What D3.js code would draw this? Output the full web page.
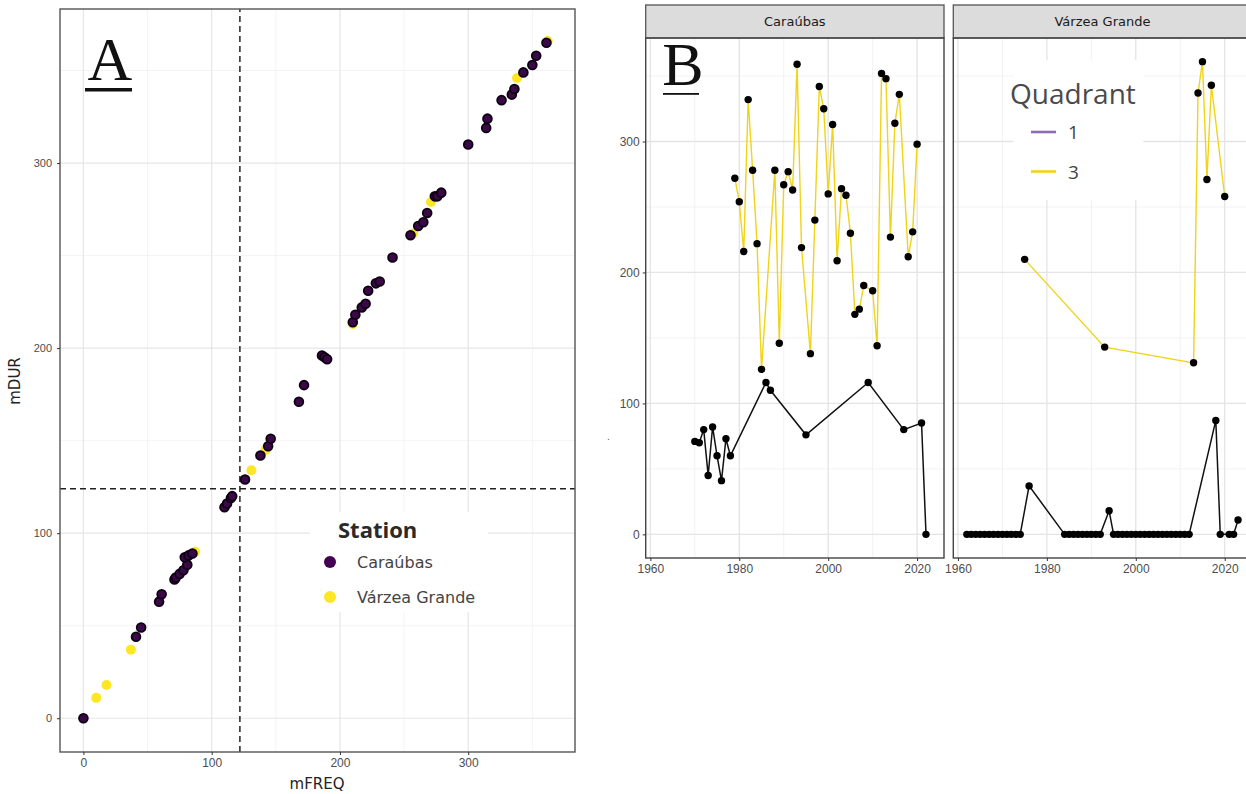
<!DOCTYPE html>
<html>
<head>
<meta charset="utf-8">
<script src="https://cdn.jsdelivr.net/npm/d3@7"></script>
<style>
  body { margin: 0; background: #fff; }
  svg { display: block; font-family: "DejaVu Sans", sans-serif; }
  .axis .domain { display: none; }
  .axis .tick line { stroke: #333; }
  .axis .tick text { fill: #4d4d4d; }
</style>
</head>
<body>
<div id="chart"></div>
<script>
// ---- Panel A: station means (mFREQ, mDUR) ----
var carFreq = [0, 41, 45, 59, 61, 71, 72, 75, 78, 81, 79, 82, 85, 110, 112, 115, 116, 126, 138, 144, 146, 168, 172, 186, 188, 190, 210, 212, 217, 220, 222, 228, 231, 241, 255, 261, 265, 268, 274, 276, 279, 300, 314, 315, 326, 334, 336, 343, 350, 353, 361];
var carDur  = [0, 44, 49, 63, 67, 75, 76, 78, 80, 83, 87, 88, 89, 114, 116, 119, 120, 129, 142, 147, 151, 171, 180, 196, 195, 194, 214, 218, 222, 224, 231, 235, 236, 249, 261, 266, 268, 273, 282, 282, 284, 310, 319, 324, 334, 337, 340, 349, 353, 358, 365];
var vgFreq = [10, 18, 37, 87, 131, 142, 210, 257, 271, 338, 362];
var vgDur  = [11, 18, 37, 90, 134, 145, 213, 262, 279, 346, 366];
var stationNames = ["Caraúbas", "Várzea Grande"];
var stationColors = ["#440154", "#FDE725"];
var freqThreshold = 122;
var durThreshold = 124;
var ticksA = [0, 100, 200, 300];
var minorA = [50, 150, 250, 350];

// ---- Panel B: yearly series by quadrant ----
var carQ3Years = [1979, 1980, 1981, 1982, 1983, 1984, 1985, 1988, 1989, 1990, 1991, 1992, 1993, 1994, 1996, 1997, 1998, 1999, 2000, 2001, 2002, 2003, 2004, 2005, 2006, 2007, 2008, 2010, 2011, 2012, 2013, 2014, 2015, 2016, 2018, 2019, 2020];
var carQ3Vals  = [272, 254, 216, 332, 278, 222, 126, 278, 146, 267, 277, 263, 359, 219, 138, 240, 342, 325, 260, 313, 209, 264, 259, 230, 168, 172, 190, 186, 144, 352, 348, 227, 314, 336, 212, 231, 298];
var carQ1Years = [1970, 1971, 1972, 1973, 1974, 1975, 1976, 1977, 1978, 1986, 1987, 1995, 2009, 2017, 2021, 2022];
var carQ1Vals  = [71, 70, 80, 45, 82, 60, 41, 73, 60, 116, 110, 76, 116, 80, 85, 0];
var vgQ3Years = [1975, 1993, 2013, 2014, 2015, 2016, 2017, 2020];
var vgQ3Vals  = [210, 143, 131, 337, 361, 271, 343, 258];
var vgQ1Years = [1962, 1963, 1964, 1965, 1966, 1967, 1968, 1969, 1970, 1971, 1972, 1973, 1974, 1976,
                 1984, 1985, 1986, 1987, 1988, 1989, 1990, 1991, 1992, 1994,
                 1995, 1996, 1997, 1998, 1999, 2000, 2001, 2002, 2003, 2004, 2005, 2006, 2007, 2008, 2009, 2010, 2011, 2012,
                 2018, 2019, 2021, 2022, 2023];
var vgQ1Vals  = [0, 0, 0, 0, 0, 0, 0, 0, 0, 0, 0, 0, 0, 37,
                 0, 0, 0, 0, 0, 0, 0, 0, 0, 18,
                 0, 0, 0, 0, 0, 0, 0, 0, 0, 0, 0, 0, 0, 0, 0, 0, 0, 0,
                 87, 0, 0, 0, 11];
var quadrantNames = ["1", "3"];
var quadrantColors = ["#8c6bb1", "#F0D418"];
var ticksBx = [1960, 1980, 2000, 2020];
var minorBx = [1970, 1990, 2010];
var ticksBy = [0, 100, 200, 300];
var minorBy = [50, 150, 250, 350];

var svg = d3.select("#chart").append("svg")
  .attr("width", 1246)
  .attr("height", 794);

svg.append("rect").attr("width", 1246).attr("height", 794).attr("fill", "#fff");

function zip(a, b) { return a.map(function(v, i) { return [v, b[i]]; }); }

// =================== PANEL A ===================
var xA = d3.scaleLinear().domain([-18.25, 383.25]).range([60, 575]);
var yA = d3.scaleLinear().domain([-18.25, 383.25]).range([752, 9]);

var gA = svg.append("g");

// grid
gA.selectAll(".minx").data(minorA).enter().append("line")
  .attr("x1", d => xA(d)).attr("x2", d => xA(d))
  .attr("y1", yA.range()[0]).attr("y2", yA.range()[1])
  .attr("stroke", "#ececec").attr("stroke-width", 0.6);
gA.selectAll(".miny").data(minorA).enter().append("line")
  .attr("y1", d => yA(d)).attr("y2", d => yA(d))
  .attr("x1", xA.range()[0]).attr("x2", xA.range()[1])
  .attr("stroke", "#ececec").attr("stroke-width", 0.6);
gA.selectAll(".majx").data(ticksA).enter().append("line")
  .attr("x1", d => xA(d)).attr("x2", d => xA(d))
  .attr("y1", yA.range()[0]).attr("y2", yA.range()[1])
  .attr("stroke", "#e6e6e6").attr("stroke-width", 1.2);
gA.selectAll(".majy").data(ticksA).enter().append("line")
  .attr("y1", d => yA(d)).attr("y2", d => yA(d))
  .attr("x1", xA.range()[0]).attr("x2", xA.range()[1])
  .attr("stroke", "#e6e6e6").attr("stroke-width", 1.2);

// legend background (hides grid like ggplot)
gA.append("rect")
  .attr("x", 310).attr("y", 512).attr("width", 178).attr("height", 100)
  .attr("fill", "#fff");

// threshold lines
gA.append("line")
  .attr("x1", xA(freqThreshold)).attr("x2", xA(freqThreshold))
  .attr("y1", yA.range()[0]).attr("y2", yA.range()[1])
  .attr("stroke", "#222").attr("stroke-width", 1.5).attr("stroke-dasharray", "6,4");
gA.append("line")
  .attr("y1", yA(durThreshold)).attr("y2", yA(durThreshold))
  .attr("x1", xA.range()[0]).attr("x2", xA.range()[1])
  .attr("stroke", "#222").attr("stroke-width", 1.5).attr("stroke-dasharray", "6,4");

// points
gA.selectAll(".vg").data(zip(vgFreq, vgDur)).enter().append("circle")
  .attr("cx", d => xA(d[0])).attr("cy", d => yA(d[1]))
  .attr("r", 5).attr("fill", stationColors[1]);
gA.selectAll(".car").data(zip(carFreq, carDur)).enter().append("circle")
  .attr("cx", d => xA(d[0])).attr("cy", d => yA(d[1]))
  .attr("r", 4.4).attr("fill", "#3b0848")
  .attr("stroke", "#0c0010").attr("stroke-width", 1.8);

// panel border
gA.append("rect")
  .attr("x", 60).attr("y", 9).attr("width", 515).attr("height", 743)
  .attr("fill", "none").attr("stroke", "#555").attr("stroke-width", 1.4);

// axes
gA.append("g").attr("class", "axis")
  .attr("transform", "translate(60,0)")
  .call(d3.axisLeft(yA).tickValues(ticksA).tickSize(3).tickPadding(5))
  .selectAll("text").style("font-size", "11px");
gA.append("g").attr("class", "axis")
  .attr("transform", "translate(0,752)")
  .call(d3.axisBottom(xA).tickValues(ticksA).tickSize(3).tickPadding(3))
  .selectAll("text").style("font-size", "12px");

gA.append("text")
  .attr("transform", "translate(20,381) rotate(-90)")
  .attr("text-anchor", "middle")
  .style("font-size", "15px").attr("fill", "#222")
  .text("mDUR");
gA.append("text")
  .attr("x", 317).attr("y", 789)
  .attr("text-anchor", "middle")
  .style("font-size", "15px").attr("fill", "#222")
  .text("mFREQ");

// panel letter
gA.append("text")
  .attr("x", 110).attr("y", 80)
  .attr("text-anchor", "middle")
  .style("font-family", "'Liberation Serif', serif")
  .style("font-size", "62px").attr("fill", "#111")
  .text("A");
gA.append("rect").attr("x", 85).attr("y", 88).attr("width", 47).attr("height", 3.5).attr("fill", "#111");

// station legend
var legA = gA.append("g");
legA.append("text")
  .attr("x", 338).attr("y", 538)
  .style("font-family", "'Open Sans', sans-serif")
  .style("font-size", "22px").style("font-weight", "bold")
  .attr("fill", "#2a2a2a")
  .text("Station");
legA.selectAll(".key").data(stationNames).enter().append("g")
  .each(function(d, i) {
    var g = d3.select(this);
    var cy = 562 + i * 35;
    g.append("circle").attr("cx", 330).attr("cy", cy).attr("r", 6).attr("fill", stationColors[i]);
    g.append("text").attr("x", 357).attr("y", cy + 5.5)
      .style("font-size", "16px").attr("fill", "#444").text(d);
  });

// =================== PANEL B ===================
var facetW = 298.3;
var xB = d3.scaleLinear().domain([1958.95, 2026.05]).range([0, facetW]);
var yB = d3.scaleLinear().domain([-18.05, 379.05]).range([558, 38]);

var line = d3.line().x(d => xB(d[0])).y(d => yB(d[1]));

function drawFacet(x0, name) {
  var g = svg.append("g").attr("transform", "translate(" + x0 + ",0)");

  g.selectAll(".minx").data(minorBx).enter().append("line")
    .attr("x1", d => xB(d)).attr("x2", d => xB(d))
    .attr("y1", yB.range()[0]).attr("y2", yB.range()[1])
    .attr("stroke", "#ececec").attr("stroke-width", 0.7);
  g.selectAll(".miny").data(minorBy).enter().append("line")
    .attr("y1", d => yB(d)).attr("y2", d => yB(d))
    .attr("x1", 0).attr("x2", facetW)
    .attr("stroke", "#ececec").attr("stroke-width", 0.7);
  g.selectAll(".majx").data(ticksBx).enter().append("line")
    .attr("x1", d => xB(d)).attr("x2", d => xB(d))
    .attr("y1", yB.range()[0]).attr("y2", yB.range()[1])
    .attr("stroke", "#e4e4e4").attr("stroke-width", 1.3);
  g.selectAll(".majy").data(ticksBy).enter().append("line")
    .attr("y1", d => yB(d)).attr("y2", d => yB(d))
    .attr("x1", 0).attr("x2", facetW)
    .attr("stroke", "#e4e4e4").attr("stroke-width", 1.3);

  // strip
  g.append("rect").attr("x", 0).attr("y", 5).attr("width", facetW).attr("height", 33)
    .attr("fill", "#dcdcdc").attr("stroke", "#555").attr("stroke-width", 1.3);
  g.append("text").attr("x", facetW / 2).attr("y", 26)
    .attr("text-anchor", "middle").style("font-size", "13px").attr("fill", "#1a1a1a")
    .text(name);

  return g;
}

function drawSeries(g, q3Y, q3V, q1Y, q1V) {
  var q3 = zip(q3Y, q3V), q1 = zip(q1Y, q1V);
  g.append("path").datum(q3).attr("d", line)
    .attr("fill", "none").attr("stroke", quadrantColors[1]).attr("stroke-width", 1.4);
  g.append("path").datum(q1).attr("d", line)
    .attr("fill", "none").attr("stroke", "#111").attr("stroke-width", 1.5);
  g.selectAll(".p3").data(q3).enter().append("circle")
    .attr("cx", d => xB(d[0])).attr("cy", d => yB(d[1])).attr("r", 3.7).attr("fill", "#000");
  g.selectAll(".p1").data(q1).enter().append("circle")
    .attr("cx", d => xB(d[0])).attr("cy", d => yB(d[1])).attr("r", 3.7).attr("fill", "#000");
}

function finishFacet(g, showY) {
  g.append("rect").attr("x", 0).attr("y", 38).attr("width", facetW).attr("height", 520)
    .attr("fill", "none").attr("stroke", "#444").attr("stroke-width", 1.4);
  g.append("g").attr("class", "axis")
    .attr("transform", "translate(0,558)")
    .call(d3.axisBottom(xB).tickValues(ticksBx).tickFormat(d3.format("d")).tickSize(3).tickPadding(3))
    .selectAll("text").style("font-size", "12px");
  if (showY) {
    g.append("g").attr("class", "axis")
      .call(d3.axisLeft(yB).tickValues(ticksBy).tickSize(3).tickPadding(3))
      .selectAll("text").style("font-size", "12px");
  }
}

var gL = drawFacet(645.7, stationNames[0]);
drawSeries(gL, carQ3Years, carQ3Vals, carQ1Years, carQ1Vals);
finishFacet(gL, true);

var gR = drawFacet(953.3, stationNames[1]);
// legend background sits over the grid
gR.append("rect").attr("x", 60).attr("y", 60).attr("width", 130).attr("height", 140).attr("fill", "#fff");
drawSeries(gR, vgQ3Years, vgQ3Vals, vgQ1Years, vgQ1Vals);
finishFacet(gR, false);

// panel letter B
svg.append("text")
  .attr("x", 683).attr("y", 85)
  .attr("text-anchor", "middle")
  .style("font-family", "'Liberation Serif', serif")
  .style("font-size", "62px").attr("fill", "#111")
  .text("B");
svg.append("rect").attr("x", 663).attr("y", 93).attr("width", 36).attr("height", 1.8).attr("fill", "#111");

// tiny y title mark
svg.append("text").attr("x", 607).attr("y", 440).style("font-size", "9px").attr("fill", "#555").text(".");

// quadrant legend
var legB = svg.append("g");
legB.append("text")
  .attr("x", 1010).attr("y", 104)
  .style("font-family", "'Open Sans', sans-serif")
  .style("font-size", "28px").attr("fill", "#4a4a4a")
  .text("Quadrant");
legB.selectAll(".key").data(quadrantNames).enter().append("g")
  .each(function(d, i) {
    var g = d3.select(this);
    var cy = 132 + i * 39.5;
    g.append("line").attr("x1", 1031).attr("x2", 1056).attr("y1", cy).attr("y2", cy)
      .attr("stroke", quadrantColors[i]).attr("stroke-width", 2.6);
    g.append("text").attr("x", 1068).attr("y", cy + 7)
      .style("font-family", "'Open Sans', sans-serif")
      .style("font-size", "19px").attr("fill", "#444").text(d);
  });
</script>
</body>
</html>
